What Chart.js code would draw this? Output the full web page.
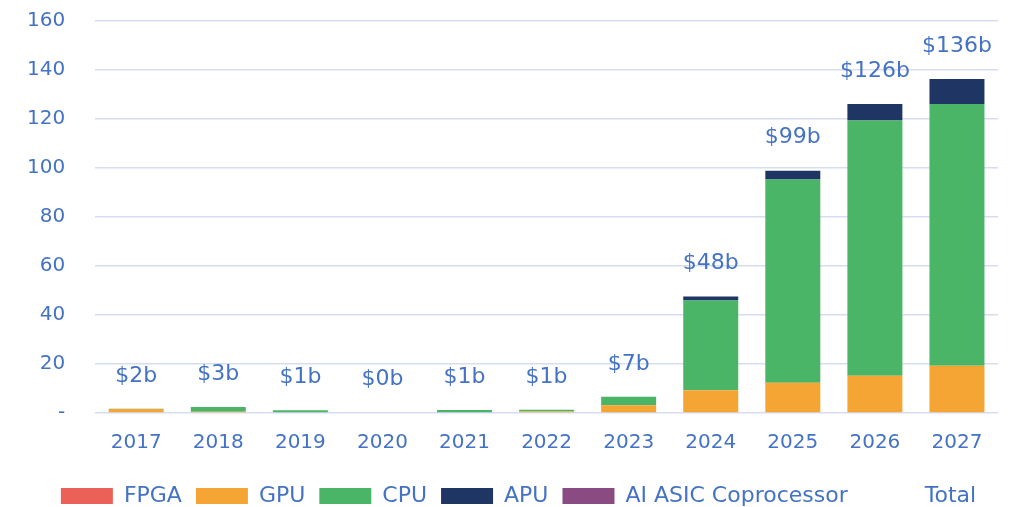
<!DOCTYPE html>
<html>
<head>
<meta charset="utf-8">
<script src="https://cdn.jsdelivr.net/npm/chart.js@4.4.1/dist/chart.umd.min.js"></script>
<style>
  html, body { margin: 0; padding: 0; background: #ffffff; }
  #wrap { width: 1023px; height: 507px; }
</style>
</head>
<body>
<div id="wrap"><canvas id="chart" width="1023" height="507"></canvas></div>
<script>
// Yearly values, $ billions
const years = ['2017', '2018', '2019', '2020', '2021', '2022', '2023', '2024', '2025', '2026', '2027'];
const fpga  = [0, 0, 0, 0, 0, 0, 0, 0, 0, 0, 0];
const gpu   = [1.6, 0.5, 0.0, 0.0, 0.0, 0.6, 3.2, 9.3, 12.3, 15.2, 19.3];
const cpu   = [0.1, 2.0, 1.1, 0.3, 1.2, 0.7, 3.4, 36.6, 83.0, 104.2, 106.8];
const apu   = [0, 0, 0, 0, 0, 0, 0, 1.7, 3.6, 6.7, 10.2];
const asic  = [0, 0, 0, 0, 0, 0, 0, 0, 0, 0, 0];
const yTicks = [0, 20, 40, 60, 80, 100, 120, 140, 160];

const totals = years.map((_, i) => fpga[i] + gpu[i] + cpu[i] + apu[i] + asic[i]);

const BLUE = '#4472C4';
const FONT = 'DejaVu Sans';

// Dollar totals written above each stacked column
const totalLabels = {
  id: 'totalLabels',
  afterDatasetsDraw(chart) {
    const { ctx, scales: { x, y } } = chart;
    ctx.save();
    ctx.font = '22px "' + FONT + '"';
    ctx.fillStyle = BLUE;
    ctx.textAlign = 'center';
    ctx.textBaseline = 'middle';
    totals.forEach((t, i) => {
      ctx.fillText('$' + Math.round(t) + 'b', x.getPixelForValue(i), y.getPixelForValue(t) - 33);
    });
    ctx.restore();
  }
};

// Nudge the legend row a little to the right
const legendShift = {
  id: 'legendShift',
  afterLayout(chart) {
    const lg = chart.legend;
    if (lg) { lg.left += 21; lg.right += 21; }
  }
};

new Chart(document.getElementById('chart'), {
  type: 'bar',
  data: {
    labels: years,
    datasets: [
      { label: 'FPGA', data: fpga, backgroundColor: '#EC6157' },
      { label: 'GPU', data: gpu, backgroundColor: '#F5A533' },
      { label: 'CPU', data: cpu, backgroundColor: '#4BB567' },
      { label: 'APU', data: apu, backgroundColor: '#1F3563' },
      { label: 'AI ASIC Coprocessor', data: asic, backgroundColor: '#8A4A82' },
      { label: 'Total', type: 'line', data: totals, stack: 'total',
        backgroundColor: 'rgba(0,0,0,0)', borderColor: 'rgba(0,0,0,0)',
        showLine: false, pointRadius: 0, pointHoverRadius: 0 }
    ]
  },
  options: {
    responsive: false,
    animation: false,
    events: [],
    categoryPercentage: 1,
    barPercentage: 0.67,
    layout: { padding: { left: -3, right: 25, top: 0, bottom: -10 } },
    plugins: {
      tooltip: { enabled: false },
      legend: {
        position: 'bottom',
        labels: {
          boxWidth: 52, boxHeight: 16, padding: 14,
          color: BLUE,
          font: { family: FONT, size: 22 }
        }
      }
    },
    scales: {
      x: {
        stacked: true,
        grid: { display: false },
        border: { display: false },
        ticks: { color: BLUE, font: { family: FONT, size: 20 }, padding: 10 },
        afterFit(scale) { scale.height += 6; }
      },
      y: {
        stacked: true,
        min: 0, max: 160,
        afterBuildTicks(axis) { axis.ticks = yTicks.map(v => ({ value: v })); },
        grid: { color: '#D7DDF0', lineWidth: 1.5, drawTicks: false },
        border: { display: false },
        ticks: {
          color: BLUE, font: { family: FONT, size: 20 }, padding: 30,
          callback: v => v === 0 ? '-' : String(v)
        },
        afterFit(scale) { scale.paddingTop = 21; }
      }
    }
  },
  plugins: [totalLabels, legendShift]
});
</script>
</body>
</html>
